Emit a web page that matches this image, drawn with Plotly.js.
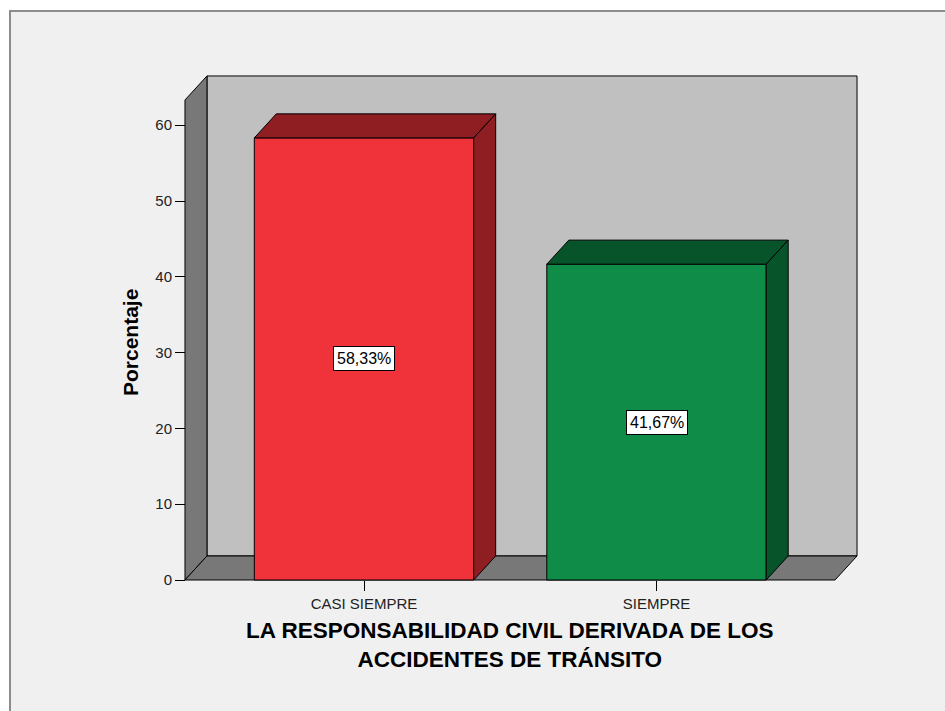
<!DOCTYPE html>
<html>
<head>
<meta charset="utf-8">
<script src="https://cdn.plot.ly/plotly-3.0.1.min.js"></script>
<style>html,body{margin:0;padding:0;background:#fff;}#chart{width:945px;height:711px;}</style>
</head>
<body>
<div id="chart"></div>
<script>
// ---- data ----
const categories = ['CASI SIEMPRE', 'SIEMPRE'];
const percentages = [58.33, 41.67];
const yTickValues = [0, 10, 20, 30, 40, 50, 60];
const xTitleLines = ['LA RESPONSABILIDAD CIVIL DERIVADA DE LOS', 'ACCIDENTES DE TRÁNSITO'];
const yTitle = 'Porcentaje';

// ---- styles ----
const frontColors = ['#f0323a', '#0e8c48'];
const shadeColors = ['#8e1e22', '#07542a'];
const FONT = 'Liberation Sans, Arial, sans-serif';

// ---- 3D geometry (data units) ----
const BAR_W = 0.75, DX = 0.0752, DY = 3.17;
const X_LEFT = -0.612, X_RIGHT = 1.6855, Y_TOP = 66.5;
const X_RANGE = [-0.6222, 1.6957], Y_RANGE = [-0.264, 66.76];

const xs = categories.map((c, i) => i);
const traces = [];
traces.push({
  type: 'bar', x: xs, y: percentages, width: BAR_W,
  marker: {color: frontColors, line: {color: '#000', width: 1}},
  hoverinfo: 'skip', showlegend: false
});
xs.forEach((xc, i) => {
  const v = percentages[i], l = xc - BAR_W / 2, r = xc + BAR_W / 2;
  traces.push({
    type: 'scatter', mode: 'lines', fill: 'toself', fillcolor: shadeColors[i],
    x: [l, r, r + DX, l + DX, l], y: [v, v, v + DY, v + DY, v],
    line: {color: '#000', width: 1}, hoverinfo: 'skip', showlegend: false
  });
  traces.push({
    type: 'scatter', mode: 'lines', fill: 'toself', fillcolor: shadeColors[i],
    x: [r, r + DX, r + DX, r, r], y: [0, DY, v + DY, v, 0],
    line: {color: '#000', width: 1}, hoverinfo: 'skip', showlegend: false
  });
});

function path(pts) { return 'M' + pts.map(p => p[0] + ',' + p[1]).join(' L') + ' Z'; }

const shapes = [
  {type: 'rect', xref: 'paper', yref: 'paper', layer: 'below',
   x0: -0.2537, x1: 1.2, y0: -0.4, y1: 1.124,
   fillcolor: '#f0f0f0', line: {color: '#8c8c8c', width: 2}},
  // back wall
  {type: 'path', xref: 'x', yref: 'y', layer: 'below',
   path: path([[X_LEFT + DX, DY], [X_RIGHT, DY], [X_RIGHT, Y_TOP], [X_LEFT + DX, Y_TOP]]),
   fillcolor: '#c0c0c0', line: {color: '#000', width: 1}},
  // left wall
  {type: 'path', xref: 'x', yref: 'y', layer: 'below',
   path: path([[X_LEFT, 0], [X_LEFT + DX, DY], [X_LEFT + DX, Y_TOP], [X_LEFT, Y_TOP - DY]]),
   fillcolor: '#787878', line: {color: '#000', width: 1}},
  // floor
  {type: 'path', xref: 'x', yref: 'y', layer: 'below',
   path: path([[X_LEFT, 0], [X_RIGHT - DX, 0], [X_RIGHT, DY], [X_LEFT + DX, DY]]),
   fillcolor: '#787878', line: {color: '#000', width: 1}}
];

const annotations = xs.map((xc, i) => ({
  x: xc, y: percentages[i] / 2, xref: 'x', yref: 'y',
  text: percentages[i].toFixed(2).replace('.', ',') + '%',
  showarrow: false, bgcolor: '#ffffff', bordercolor: '#000', borderwidth: 1, borderpad: 3,
  font: {family: FONT, size: 16, color: '#000'}
}));
annotations.push({
  xref: 'paper', yref: 'paper', x: 0.4838, y: -0.1240,
  xanchor: 'center', yanchor: 'middle', align: 'center', showarrow: false,
  text: xTitleLines.join('<br>'),
  font: {family: FONT, size: 22.5, color: '#000', weight: 'bold'}
});
annotations.push({
  xref: 'paper', yref: 'paper', x: -0.0767, y: 0.4724,
  xanchor: 'center', yanchor: 'middle', showarrow: false, textangle: -90,
  text: yTitle,
  font: {family: FONT, size: 21, color: '#000', weight: 'bold'}
});

const layout = {
  width: 945, height: 711,
  margin: {l: 182, r: 85, t: 74, b: 129, pad: 0},
  paper_bgcolor: '#ffffff', plot_bgcolor: 'rgba(0,0,0,0)',
  showlegend: false,
  font: {family: FONT, color: '#000'},
  xaxis: {
    range: X_RANGE, anchor: 'free', position: 0.00394,
    tickvals: xs, ticktext: categories, ticks: 'outside', ticklen: 10, tickwidth: 1, tickcolor: '#000',
    showgrid: false, zeroline: false, showline: false,
    tickfont: {family: FONT, size: 15, color: '#222'}
  },
  yaxis: {
    range: Y_RANGE, anchor: 'free', position: 0.00442,
    tickvals: yTickValues, ticks: 'outside', ticklen: 10, tickwidth: 1, tickcolor: '#000',
    showgrid: false, zeroline: false, showline: false,
    tickfont: {family: FONT, size: 15, color: '#222'}
  },
  shapes: shapes,
  annotations: annotations
};

Plotly.newPlot('chart', traces, layout, {staticPlot: true, displayModeBar: false});
</script>
</body>
</html>
